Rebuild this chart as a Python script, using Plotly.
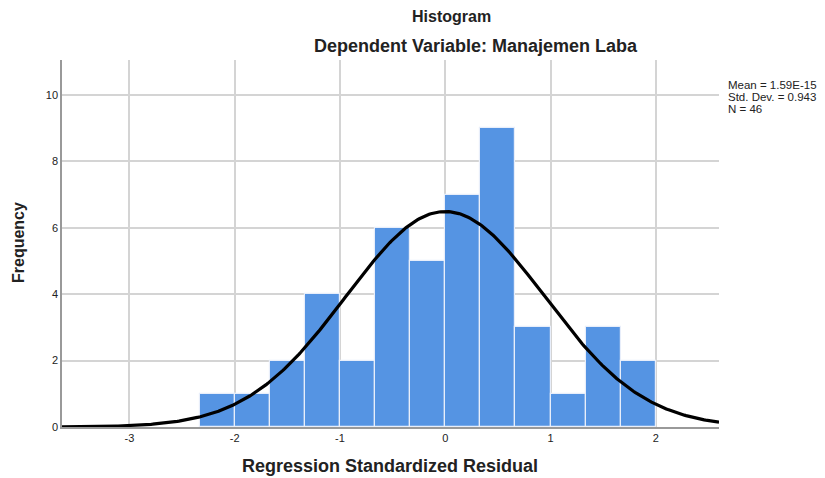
import numpy as np
import plotly.graph_objects as go

# Histogram data
bin_starts = [-2.3333, -2.0, -1.6667, -1.3333, -1.0, -0.6667, -0.3333, 0.0, 0.3333, 0.6667, 1.0, 1.3333, 1.6667]
counts = [1, 1, 2, 4, 2, 6, 5, 7, 9, 3, 1, 3, 2]
bin_width = 1 / 3
x_ticks = [-3, -2, -1, 0, 1, 2]
x_tick_labels = ["-3", "-2", "-1", "0", "1", "2"]
y_ticks = [0, 2, 4, 6, 8, 10]
y_tick_labels = ["0", "2", "4", "6", "8", "10"]

# Stated summary statistics
mean = 1.59e-15
std_dev = 0.943
n_obs = 46
stat_lines = ["Mean = 1.59E-15", "Std. Dev. = 0.943", "N = 46"]

centers = [s + bin_width / 2 for s in bin_starts]

xs = np.linspace(-3.64, 2.6, 400)
ys = n_obs * bin_width / (std_dev * np.sqrt(2 * np.pi)) * np.exp(-0.5 * ((xs - mean) / std_dev) ** 2)

fig = go.Figure()
fig.add_trace(go.Bar(
    x=centers, y=counts, width=[bin_width] * len(counts),
    marker=dict(color="#5594e3", line=dict(color="#e8eefa", width=1.2)),
    hoverinfo="x+y",
))
fig.add_trace(go.Scatter(x=xs, y=ys, mode="lines", line=dict(color="black", width=3.2)))

font = "Liberation Sans, Arial, sans-serif"
OFF = 8  # page body margin
FW, FH = 825 - OFF, 478 - OFF
L, R, T, B = 62, 719, 60, 427  # plot area in screen pixels
W, H = R - L, B - T
fig.update_layout(
    width=FW, height=FH,
    margin=dict(l=L - OFF, r=FW - (R - OFF), t=T - OFF, b=FH - (B - OFF), pad=0),
    plot_bgcolor="white", paper_bgcolor="white",
    showlegend=False, bargap=0,
    font=dict(family=font, size=11, color="#222"),
    xaxis=dict(range=[-3.64, 2.6], tickvals=x_ticks, ticktext=x_tick_labels, showgrid=True,
               gridcolor="#d4d4d4", gridwidth=1.5, automargin=False,
               zeroline=False, showline=True, linecolor="#999", linewidth=1.5, ticks=""),
    yaxis=dict(range=[0, 11.05], tickvals=y_ticks, ticktext=y_tick_labels, showgrid=True,
               gridcolor="#d4d4d4", gridwidth=1.5, automargin=False,
               zeroline=False, showline=True, linecolor="#999", linewidth=1.5, ticks=""),
)


def px_x(p):
    return (p - L) / W


def px_y(p):
    return (B - p) / H


fig.add_annotation(text="<b>Histogram</b>", xref="paper", yref="paper", x=px_x(451), y=px_y(17),
                   xanchor="center", yanchor="middle", showarrow=False, font=dict(size=16, color="#222"))
fig.add_annotation(text="<b>Dependent Variable: Manajemen Laba</b>", xref="paper", yref="paper",
                   x=px_x(476), y=px_y(46), xanchor="center", yanchor="middle", showarrow=False,
                   font=dict(size=18, color="#222"))
fig.add_annotation(text="<b>Regression Standardized Residual</b>", xref="paper", yref="paper",
                   x=px_x(390), y=px_y(466), xanchor="center", yanchor="middle", showarrow=False,
                   font=dict(size=18, color="#222"))
fig.add_annotation(text="<b>Frequency</b>", xref="paper", yref="paper", textangle=-90,
                   x=px_x(18), y=px_y(243), xanchor="center", yanchor="middle", showarrow=False,
                   font=dict(size=16, color="#222"))
for i, line in enumerate(stat_lines):
    fig.add_annotation(text=line, xref="paper", yref="paper",
                       x=px_x(726), y=px_y(85 + 12 * i), xanchor="left", yanchor="middle", align="left",
                       showarrow=False, font=dict(size=11.5, color="#222"))

fig.write_html("out.html")
